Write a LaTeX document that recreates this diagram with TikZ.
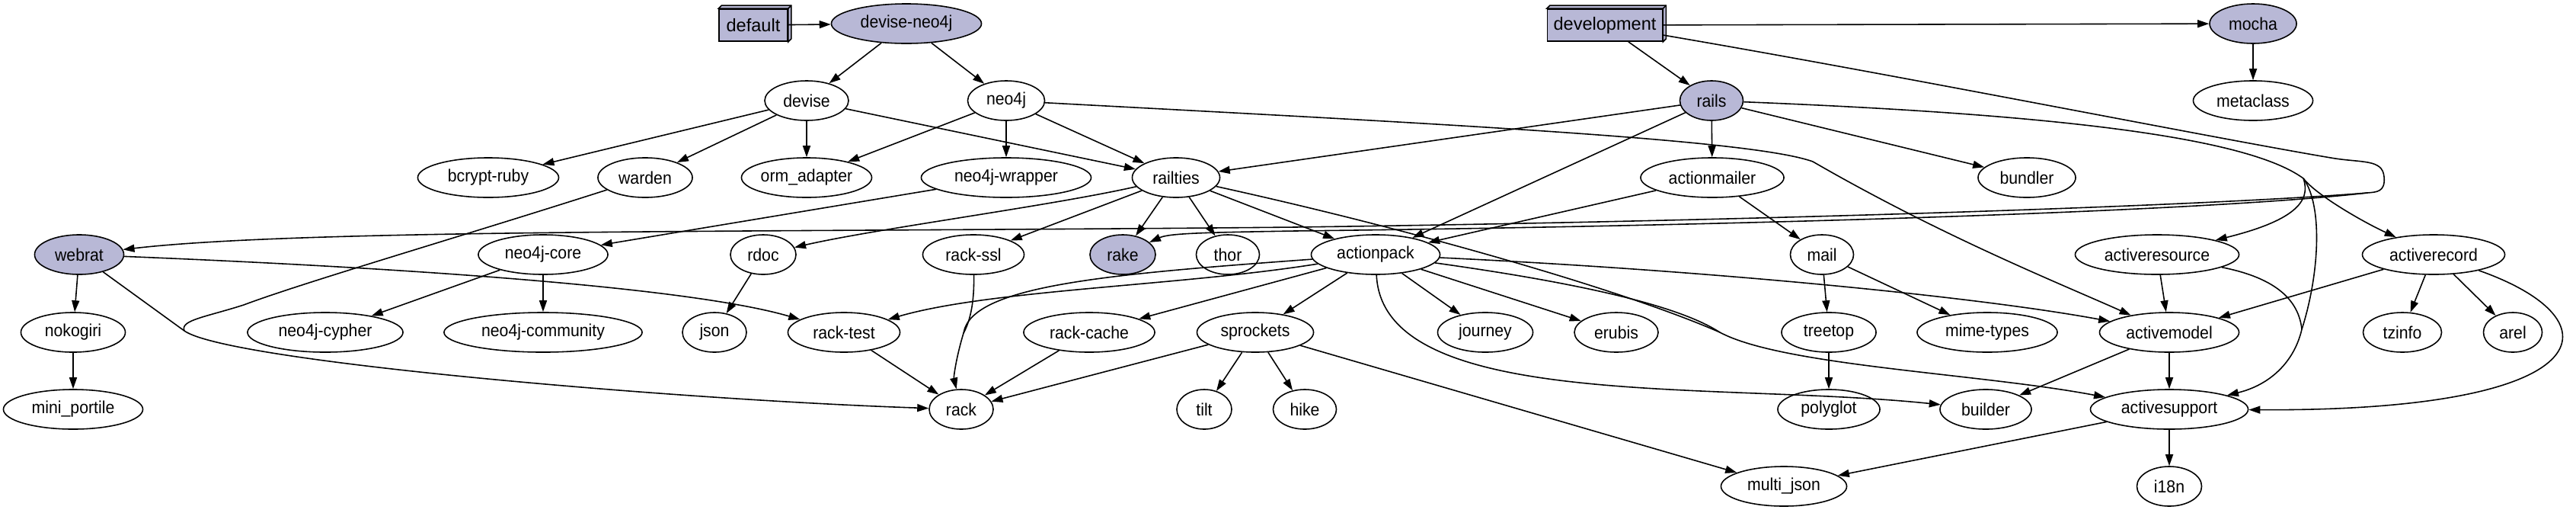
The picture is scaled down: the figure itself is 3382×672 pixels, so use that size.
\documentclass[tikz,border=0pt]{standalone}
\usepackage{fontspec}
\setmainfont{Liberation Sans}
\newfontfamily\nfont[FakeStretch=0.93]{Liberation Sans}
\usetikzlibrary{shapes.geometric,arrows.meta,calc}
\definecolor{gfill}{RGB}{184,184,214}
\begin{document}
\begin{tikzpicture}[x=0.01cm,y=-0.01cm,
  en/.style={ellipse,draw,line width=0.45pt,inner sep=0pt,minimum height=0.52cm,font=\nfont\fontsize{6.5}{7}\selectfont},
  fe/.style={en,fill=gfill},
  bx/.style={rectangle,draw,line width=0.45pt,fill=gfill,inner sep=0pt,minimum height=0.42cm,font=\fontsize{6.7}{7}\selectfont},
  ed/.style={line width=0.45pt,-{Triangle[length=0.15cm,width=0.1cm]}},
  ln/.style={line width=0.45pt}]
\useasboundingbox (0,0) rectangle (3382,672);

% row 0
\node[bx,minimum width=0.90cm] (default) at (989,33) {default};
\node[fe,minimum width=1.97cm] (deviseneo) at (1190,31) {devise-neo4j};
\node[bx,minimum width=1.51cm] (development) at (2107,33) {development};
\node[fe,minimum width=1.14cm] (mocha) at (2958,31) {mocha};
\foreach \b in {default,development}{
  \draw[ln,fill=gfill] (\b.north west) -- ++(4,-4) -| ($(\b.south east)+(4,-4)$) -- (\b.south east) -- (\b.north east) -- cycle;
  \draw[ln] (\b.north east) -- ++(4,-4);
}
% row 1
\node[en,minimum width=1.10cm] (devise) at (1059,132) {devise};
\node[en,minimum width=1.01cm] (neo4j) at (1321,132) {neo4j};
\node[fe,minimum width=0.83cm] (rails) at (2247,132) {rails};
\node[en,minimum width=1.57cm] (metaclass) at (2958,132) {metaclass};
% row 2
\node[en,minimum width=1.85cm] (bcrypt) at (641,233) {bcrypt-ruby};
\node[en,minimum width=1.24cm] (warden) at (847,233) {warden};
\node[en,minimum width=1.71cm] (orm) at (1059,233) {orm\_adapter};
\node[en,minimum width=2.23cm] (wrapper) at (1321,233) {neo4j-wrapper};
\node[en,minimum width=1.15cm] (railties) at (1544,233) {railties};
\node[en,minimum width=1.88cm] (actionmailer) at (2248,233) {actionmailer};
\node[en,minimum width=1.28cm] (bundler) at (2661,233) {bundler};
% row 3
\node[fe,minimum width=1.17cm] (webrat) at (104,334) {webrat};
\node[en,minimum width=1.70cm] (neocore) at (713,334) {neo4j-core};
\node[en,minimum width=0.86cm] (rdoc) at (1002,334) {rdoc};
\node[en,minimum width=1.33cm] (rackssl) at (1278,334) {rack-ssl};
\node[fe,minimum width=0.86cm] (rake) at (1474,334) {rake};
\node[en,minimum width=0.83cm] (thor) at (1612,334) {thor};
\node[en,minimum width=1.69cm] (actionpack) at (1806,334) {actionpack};
\node[en,minimum width=0.83cm] (mail) at (2392,334) {mail};
\node[en,minimum width=2.15cm] (activeresource) at (2832,334) {activeresource};
\node[en,minimum width=1.87cm] (activerecord) at (3195,334) {activerecord};
% row 4
\node[en,minimum width=1.37cm] (nokogiri) at (96,436) {nokogiri};
\node[en,minimum width=2.04cm] (cypher) at (427,436) {neo4j-cypher};
\node[en,minimum width=2.60cm] (community) at (713,436) {neo4j-community};
\node[en,minimum width=0.84cm] (json) at (938,436) {json};
\node[en,minimum width=1.47cm] (racktest) at (1108,436) {rack-test};
\node[en,minimum width=1.72cm] (rackcache) at (1430,436) {rack-cache};
\node[en,minimum width=1.53cm] (sprockets) at (1648,436) {sprockets};
\node[en,minimum width=1.25cm] (journey) at (1950,436) {journey};
\node[en,minimum width=1.10cm] (erubis) at (2122,436) {erubis};
\node[en,minimum width=1.24cm] (treetop) at (2401,436) {treetop};
\node[en,minimum width=1.84cm] (mimetypes) at (2609,436) {mime-types};
\node[en,minimum width=1.83cm] (activemodel) at (2848,436) {activemodel};
\node[en,minimum width=1.03cm] (tzinfo) at (3154,436) {tzinfo};
\node[en,minimum width=0.77cm] (arel) at (3299,436) {arel};
% row 5
\node[en,minimum width=1.83cm] (miniportile) at (96,537) {mini\_portile};
\node[en,minimum width=0.84cm] (rack) at (1262,537) {rack};
\node[en,minimum width=0.72cm] (tilt) at (1581,537) {tilt};
\node[en,minimum width=0.83cm] (hike) at (1713,537) {hike};
\node[en,minimum width=1.34cm] (polyglot) at (2401,537) {polyglot};
\node[en,minimum width=1.20cm] (builder) at (2607,537) {builder};
\node[en,minimum width=2.07cm] (activesupport) at (2848,537) {activesupport};
% row 6
\node[en,minimum width=1.65cm] (multijson) at (2342,638) {multi\_json};
\node[en,minimum width=0.85cm] (i18n) at (2848,638) {i18n};

% merge points
\coordinate (m1) at (242,434);
\coordinate (m3) at (3022,432);
\coordinate (m4) at (2258,436);
\coordinate (m5) at (1265,437);
\coordinate (r1) at (3024,234);
\coordinate (c1) at (3108,253);

% straight edges
\draw[ed] (default) -- (deviseneo);
\draw[ed] (deviseneo) -- (devise);
\draw[ed] (deviseneo) -- (neo4j);
\draw[ed] (development) -- (mocha);
\draw[ed] (development) -- (rails);
\draw[ed] (mocha) -- (metaclass);
\draw[ed] (devise) -- (bcrypt);
\draw[ed] (devise) -- (warden);
\draw[ed] (devise) -- (orm);
\draw[ed] (devise) -- (railties);
\draw[ed] (neo4j) -- (orm);
\draw[ed] (neo4j) -- (wrapper);
\draw[ed] (neo4j) -- (railties);
\draw[ed] (wrapper) -- (neocore);
\draw[ed] (rails) -- (railties);
\draw[ed] (rails) -- (actionpack);
\draw[ed] (rails) -- (actionmailer);
\draw[ed] (rails) -- (bundler);
\draw[ed] (actionmailer) -- (actionpack);
\draw[ed] (actionmailer) -- (mail);
\draw[ed] (railties) -- (rackssl);
\draw[ed] (railties) -- (rake);
\draw[ed] (railties) -- (thor);
\draw[ed] (railties) -- (actionpack);
\draw[ed] (webrat) -- (nokogiri);
\draw[ed] (nokogiri) -- (miniportile);
\draw[ed] (neocore) -- (cypher);
\draw[ed] (neocore) -- (community);
\draw[ed] (rdoc) -- (json);
\draw[ed] (actionpack) -- (rackcache);
\draw[ed] (actionpack) -- (sprockets);
\draw[ed] (actionpack) -- (journey);
\draw[ed] (actionpack) -- (erubis);
\draw[ed] (mail) -- (treetop);
\draw[ed] (mail) -- (mimetypes);
\draw[ed] (activeresource) -- (activemodel);
\draw[ed] (activerecord) -- (activemodel);
\draw[ed] (activerecord) -- (tzinfo);
\draw[ed] (activerecord) -- (arel);
\draw[ed] (racktest) -- (rack);
\draw[ed] (rackcache) -- (rack);
\draw[ed] (sprockets) -- (rack);
\draw[ed] (sprockets) -- (tilt);
\draw[ed] (sprockets) -- (hike);
\draw[ed] (sprockets) -- (multijson);
\draw[ed] (treetop) -- (polyglot);
\draw[ed] (activemodel) -- (builder);
\draw[ed] (activemodel) -- (activesupport);
\draw[ed] (activesupport) -- (multijson);
\draw[ed] (activesupport) -- (i18n);

% curved edges
\draw[ed] (webrat) .. controls (500,350) and (900,375) .. (racktest);
\draw[ln] (warden) .. controls (600,312) and (400,370) .. (320,400) .. controls (270,416) and (236,420) .. (m1);
\draw[ln] (webrat) -- (m1);
\draw[ed] (m1) .. controls (300,475) and (900,525) .. (rack);
\draw[ed] (railties) .. controls (1380,270) and (1150,300) .. (rdoc);
\draw[ed] (actionpack) .. controls (1550,375) and (1300,380) .. (racktest);
\draw[ln] (actionpack) .. controls (1450,360) and (1275,375) .. (m5);
\draw[ln] (rackssl) .. controls (1279,385) and (1277,415) .. (m5);
\draw[ed] (m5) .. controls (1255,470) and (1252,495) .. (rack);
\draw[ed] (actionpack) .. controls (2250,355) and (2600,390) .. (activemodel);
\draw[ln] (actionpack) .. controls (2100,375) and (2210,405) .. (m4);
\draw[ln] (railties) .. controls (1850,300) and (2130,380) .. (m4);
\draw[ed] (m4) .. controls (2340,480) and (2600,490) .. (activesupport);
\draw[ed] (actionpack) .. controls (1815,540) and (2250,500) .. (builder);
\draw[ed] (neo4j) .. controls (1900,163) and (2300,183) .. (2380,212) .. controls (2550,310) and (2700,370) .. (activemodel);
% development -> rake, webrat
\draw[ln] (development) .. controls (2500,100) and (2900,180) .. (3060,207) .. controls (3100,214) and (3128,208) .. (3130,232) .. controls (3132,252) and (3120,252) .. (c1);
\draw[ed] (c1) .. controls (2900,270) and (2300,290) .. (1700,298) .. controls (1000,305) and (400,300) .. (webrat);
\draw[ed] (c1) .. controls (2900,277) and (2300,296) .. (1700,303) .. controls (1580,305) and (1535,306) .. (rake);
% rails -> activeresource, activerecord, activesupport
\draw[ln] (rails) .. controls (2700,150) and (2950,180) .. (r1);
\draw[ed] (r1) .. controls (3035,265) and (3010,290) .. (activeresource);
\draw[ed] (r1) .. controls (3040,255) and (3100,290) .. (activerecord);
\draw[ln] (r1) .. controls (3050,270) and (3045,360) .. (m3);
\draw[ln] (activeresource) .. controls (2990,365) and (3018,395) .. (m3);
\draw[ed] (m3) .. controls (3012,475) and (2980,505) .. (activesupport);
\draw[ed] (activerecord) .. controls (3440,420) and (3420,540) .. (activesupport);
\end{tikzpicture}
\end{document}
